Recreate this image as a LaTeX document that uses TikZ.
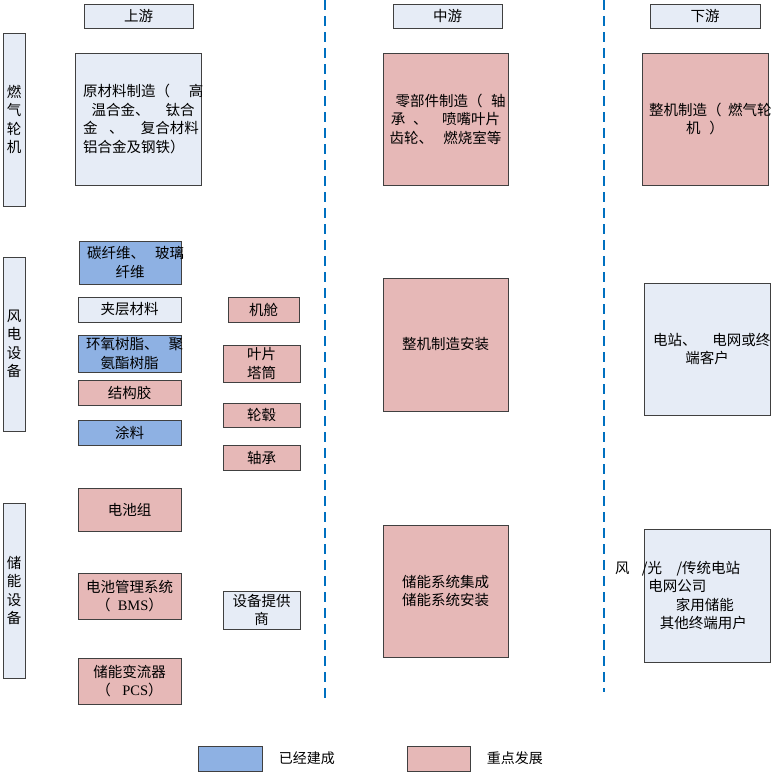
\documentclass[tikz,border=0pt]{standalone}
\usepackage{fontspec}
\setmainfont{Noto Sans CJK SC}
\newfontfamily\latinserif{Liberation Serif}
\usepackage{xcolor}
\usetikzlibrary{positioning}

\definecolor{paleblue}{HTML}{E6ECF6}
\definecolor{builtblue}{HTML}{8EB1E3}
\definecolor{focuspink}{HTML}{E6B8B7}
\definecolor{borderg}{HTML}{404040}
\definecolor{divblue}{HTML}{0070C0}
\newcommand{\zgap}[1]{\hspace*{#1em}}

\begin{document}
\begin{tikzpicture}[x=1pt,y=-1pt,
        font=\fontsize{14.5}{18.5}\selectfont,
        cell/.style={draw=borderg, line width=0.8pt, inner sep=0pt, align=center},
        pale/.style={cell, fill=paleblue},
        built/.style={cell, fill=builtblue},
        focus/.style={cell, fill=focuspink},
        dims/.style 2 args={minimum width=#1pt, minimum height=#2pt},
        divider/.style={divblue, line width=2.2pt, dash pattern=on 10pt off 6pt}]
    \useasboundingbox (0,0) rectangle (773,774);

    \node[pale, dims={109}{24}] (upper) at (138.5,16) {上游};
    \node[pale, dims={109}{24}] (middle) at (447.5,16) {中游};
    \node[pale, dims={110}{24}] (lower) at (705,16) {下游};

    \node[pale, dims={22}{173}] (gasturb) at (14,119.5) {燃\\气\\轮\\机};
    \node[pale, dims={22}{174}] (windgear) at (14,344) {风\\电\\设\\备};
    \node[pale, dims={22}{175}] (storegear) at (14,590.5) {储\\能\\设\\备};

    \node[pale, dims={126}{132}, text width=110pt, align=left] (rawmat) at (138,119)
        {原材料制造（\zgap{1.3}高\\\zgap{0.6}温合金、\zgap{1.1}钛合\\金\zgap{0.8}、\zgap{1.2}复合材料\\铝合金及钢铁）};
    \node[built, dims={102}{43}, text width=86pt] (carbon) at (130,262.5) {碳纤维、\zgap{0.7}玻璃\\纤维};
    \node[pale, dims={103}{25}] (sandwich) at (129.5,309.5) {夹层材料};
    \node[built, dims={103}{37}, text width=87pt] (resin) at (129.5,353.5) {环氧树脂、\zgap{0.7}聚\\氨酯树脂};
    \node[focus, dims={103}{25}] (glue) at (129.5,392.5) {结构胶};
    \node[built, dims={103}{25}] (coating) at (129.5,432.5) {涂料};
    \node[focus, dims={103}{43}] (pack) at (129.5,509.5) {电池组};
    \node[focus, dims={103}{46}] (bms) at (129.5,596) {电池管理系统\\（\zgap{0.5}{\latinserif BMS}）};
    \node[focus, dims={103}{46}] (pcs) at (129.5,681) {储能变流器\\（\zgap{0.8}{\latinserif PCS}）};

    \node[focus, dims={71}{25}] (cabin) at (263.5,309.5) {机舱};
    \node[focus, dims={77}{37}] (blade) at (261.5,363.5) {叶片\\塔筒};
    \node[focus, dims={77}{24}] (hub) at (261.5,415) {轮毂};
    \node[focus, dims={77}{25}] (bearing) at (261.5,457.5) {轴承};
    \node[pale, dims={77}{38}] (supplier) at (261.5,610) {设备提供\\商};

    \node[focus, dims={125}{132}, text width=113pt] (parts) at (445.5,119)
        {\zgap{0.45}零部件制造（\zgap{0.6}轴\\承\zgap{0.55}、\zgap{1}喷嘴叶片\\齿轮、\zgap{0.7}燃烧室等};
    \node[focus, dims={125}{133}] (assembly) at (445.5,344.5) {整机制造安装};
    \node[focus, dims={125}{132}] (integrate) at (445.5,591) {储能系统集成\\储能系统安装};

    \node[focus, dims={126}{132}, text width=112pt] (gasmaker) at (705,119) {整机制造（\zgap{0.45}燃气轮\\机\zgap{0.6}）};
    \node[pale, dims={126}{132}, text width=108pt] (station) at (707,349) {电站、\zgap{1.1}电网或终\\端客户};
    \node[pale, dims={126}{133}, text width=126pt, align=left] (enduser) at (707,595.5)
        {\zgap{-2}风\zgap{0.85}/光\zgap{1.0}/传统电站\\\zgap{0.3}电网公司\\\zgap{2.2}家用储能\\\zgap{1.1}其他终端用户};

    \draw[divider] (325,0) -- (325,700);
    \draw[divider] (604,0) -- (604,692);

    \node[built, dims={64}{25}] (builtkey) at (230,758.5) {};
    \node[right=13pt of builtkey, font=\fontsize{14}{17}\selectfont] (builtnote) {已经建成};
    \node[focus, dims={63}{25}] (focuskey) at (438.5,758.5) {};
    \node[right=13pt of focuskey, font=\fontsize{14}{17}\selectfont] (focusnote) {重点发展};
\end{tikzpicture}
\end{document}
